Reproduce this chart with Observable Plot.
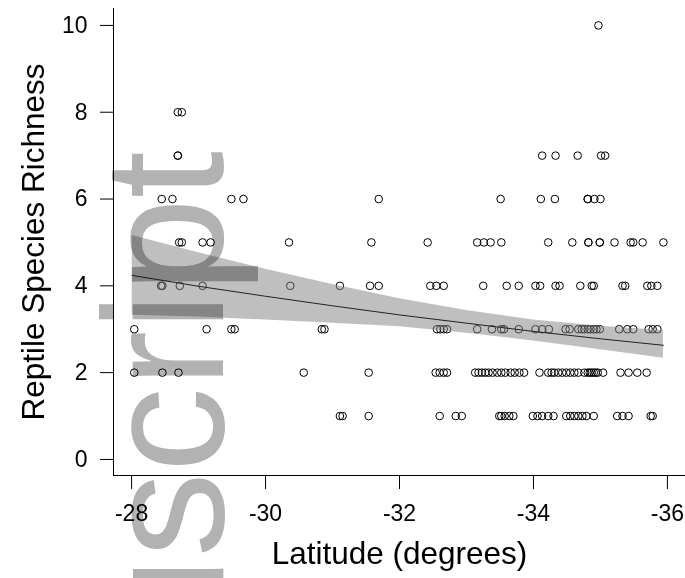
<!DOCTYPE html>
<html>
<head>
<meta charset="utf-8">
<script src="https://cdn.jsdelivr.net/npm/d3@7"></script>
<script src="https://cdn.jsdelivr.net/npm/@observablehq/plot@0.6"></script>
<style>
  html, body { margin: 0; padding: 0; background: #fff; }
  #chart { width: 685px; height: 578px; overflow: hidden; }
</style>
</head>
<body>
<div id="chart"></div>
<script>
// Reptile species richness values (y levels) and the latitudes of the sites at each level
const richnessLevels = [10, 8, 7, 6, 5, 4, 3, 2, 1];
const lat10 = [-34.97];
const lat8 = [-28.69, -28.75];
const lat7 = [-28.69, -28.69, -34.13, -34.33, -34.66, -35.01, -35.07];
const lat6 = [-28.45, -28.61, -29.49, -29.67, -31.69, -33.51, -34.11, -34.32, -34.81, -34.81, -34.91, -35.00];
const lat5 = [-28.71, -28.75, -29.06, -29.18, -30.35, -31.58, -32.42, -33.16, -33.26, -33.36, -33.52, -34.22, -34.58, -34.82, -34.82, -34.99, -34.99, -35.21, -35.45, -35.49, -35.63, -35.94];
const lat4 = [-28.44, -28.46, -28.72, -29.06, -30.37, -31.11, -31.56, -31.69, -32.46, -32.55, -32.66, -33.25, -33.60, -33.78, -34.03, -34.10, -34.33, -34.39, -34.70, -34.87, -34.90, -35.33, -35.37, -35.70, -35.76, -35.85];
const lat3 = [-28.04, -29.12, -29.49, -29.54, -30.84, -30.88, -32.56, -32.61, -32.66, -32.71, -33.16, -33.38, -33.52, -33.56, -33.78, -34.03, -34.13, -34.23, -34.48, -34.54, -34.67, -34.72, -34.76, -34.81, -34.85, -34.90, -34.94, -34.99, -35.28, -35.40, -35.49, -35.72, -35.78, -35.85];
const lat2 = [-28.04, -28.46, -28.70, -30.57, -31.54, -32.54, -32.60, -32.66, -32.71, -33.13, -33.18, -33.23, -33.28, -33.33, -33.39, -33.46, -33.52, -33.58, -33.66, -33.72, -33.79, -33.86, -34.09, -34.22, -34.27, -34.31, -34.37, -34.43, -34.49, -34.55, -34.61, -34.67, -34.76, -34.81, -34.84, -34.87, -34.90, -34.93, -34.96, -35.04, -35.30, -35.42, -35.55, -35.69];
const lat1 = [-31.11, -31.15, -31.54, -32.60, -32.84, -32.93, -33.49, -33.52, -33.57, -33.64, -33.70, -33.99, -34.06, -34.13, -34.22, -34.30, -34.49, -34.55, -34.61, -34.67, -34.73, -34.79, -34.90, -35.25, -35.33, -35.42, -35.75, -35.78];

// Fitted model line and its confidence band
const fitLat   = [-28.01, -29, -30, -31, -32, -33, -34, -35, -35.94];
const fitMean  = [4.24, 3.99, 3.76, 3.54, 3.33, 3.14, 2.95, 2.78, 2.63];
const fitUpper = [5.16, 4.76, 4.38, 4.03, 3.70, 3.43, 3.21, 3.07, 2.97];
const fitLower = [3.32, 3.28, 3.21, 3.14, 3.06, 2.91, 2.73, 2.53, 2.33];

// Axis ticks and titles
const xTicks = [-28, -30, -32, -34, -36];
const yTicks = [0, 2, 4, 6, 8, 10];
const xTitle = "Latitude (degrees)";
const yTitle = "Reptile Species Richness";
const watermark = "Manuscript";

const latByLevel = [lat10, lat8, lat7, lat6, lat5, lat4, lat3, lat2, lat1];
const sites = richnessLevels.flatMap((r, i) => latByLevel[i].map(lat => ({lat, richness: r})));
const band = fitLat.map((lat, i) => ({lat, fit: fitMean[i], lo: fitLower[i], hi: fitUpper[i]}));

const chart = Plot.plot({
  width: 685,
  height: 578,
  marginLeft: 113,
  marginRight: 0,
  marginTop: 8,
  marginBottom: 103,
  style: {fontFamily: "'Liberation Sans', Arial, sans-serif", color: "black", background: "white", overflow: "visible"},
  x: {domain: [-27.73, -36.27]},
  y: {domain: [-0.37, 10.39]},
  marks: [
    Plot.dot(sites, {x: "lat", y: "richness", r: 3.8, stroke: "black", strokeWidth: 1, fill: "none"}),
    Plot.areaY(band, {x: "lat", y1: "lo", y2: "hi", fill: "#808080", fillOpacity: 0.5}),
    Plot.lineY(band, {x: "lat", y: "fit", stroke: "#222", strokeWidth: 1}),
    Plot.frame({anchor: "left", stroke: "black"}),
    Plot.frame({anchor: "bottom", stroke: "black"}),
    Plot.axisY(yTicks, {anchor: "left", tickSize: 13, tickPadding: 13, fontSize: 23, label: null, tickFormat: d => String(d), stroke: "black"}),
    Plot.axisX(xTicks, {anchor: "bottom", tickSize: 14, tickPadding: 15, fontSize: 23, label: null, tickFormat: d => String(d), stroke: "black"}),
    Plot.text([xTitle], {text: d => d, frameAnchor: "bottom", dy: 88, fontSize: 31.5, fill: "black"}),
    Plot.text([yTitle], {text: d => d, frameAnchor: "left", textAnchor: "middle", dx: -80, rotate: -90, fontSize: 31.5, fill: "black"})
  ]
});

document.getElementById("chart").appendChild(chart);

// Grey watermark overlaid on the figure
d3.select(chart).append("text")
  .attr("transform", "translate(223,151) rotate(-90)")
  .attr("text-anchor", "end")
  .attr("font-family", "'Liberation Sans', Arial, sans-serif")
  .attr("font-size", 170)
  .attr("fill", "#b2b2b2")
  .style("mix-blend-mode", "multiply")
  .text(watermark);
</script>
</body>
</html>
